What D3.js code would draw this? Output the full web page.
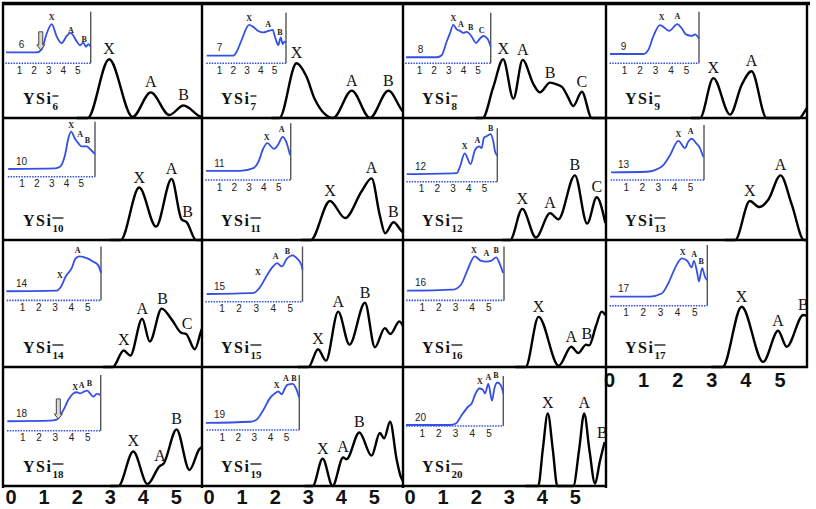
<!DOCTYPE html>
<html><head><meta charset="utf-8">
<script src="https://cdn.jsdelivr.net/npm/d3@7"></script>
<style>
body{margin:0;background:#fff;}
svg{display:block;background:#fff;}
</style></head><body>
<svg id="chart" width="816" height="509"></svg>
<script>
// ---------------- DATA ----------------
const clusterSizes = [6,7,8,9,10,11,12,13,14,15,16,17,18,19,20];
const axisTicks = [0,1,2,3,4,5];
const insetTicks = [1,2,3,4,5];

// simulated spectra: [binding energy (eV), relative intensity]
const simSpectra = [
  [[2.0,0],[2.33,0],[2.98,0.515],[3.69,0.01],[4.24,0.225],[4.80,0.026],[5.23,0.11],[5.76,0.01],[5.95,0]],
  [[1.9,0],[2.14,0],[2.66,0.48],[2.95,0.37],[3.22,0.16],[3.77,0],[4.33,0.24],[4.88,0],[5.44,0.24],[5.84,0.07],[5.95,0.03]],
  [[2.0,0],[2.21,0],[2.53,0.27],[2.83,0.515],[3.14,0.17],[3.42,0.51],[3.74,0.30],[3.94,0.225],[4.25,0.31],[4.45,0.295],[4.62,0.27],[4.78,0.19],[4.95,0.105],[5.21,0.23],[5.51,0],[5.95,0]],
  [[2.4,0],[2.67,0],[3.06,0.35],[3.55,0.03],[3.89,0.29],[4.18,0.41],[4.62,0],[5.58,0],[5.80,0.085],[5.9,0.12]],
  [[3.0,0],[3.33,0],[3.89,0.43],[4.40,0.11],[4.87,0.50],[5.17,0.17],[5.33,0.145],[5.61,0],[5.95,0]],
  [[2.8,0],[3.09,0],[3.67,0.32],[4.13,0.18],[4.63,0.40],[4.93,0.505],[5.18,0.20],[5.34,0.055],[5.59,0.145],[5.85,0.07],[5.95,0.05]],
  [[2.8,0],[3.04,0],[3.41,0.255],[3.82,0.02],[4.25,0.22],[4.50,0.17],[5.00,0.53],[5.37,0.135],[5.66,0.35],[5.92,0.14]],
  [[3.4,0],[3.70,0],[4.13,0.32],[4.41,0.27],[4.67,0.33],[5.03,0.53],[5.36,0.29],[5.72,0],[5.9,0]],
  [[2.8,0],[3.09,0],[3.42,0.13],[3.62,0.09],[3.98,0.38],[4.21,0.20],[4.57,0.46],[4.87,0.375],[5.16,0.27],[5.31,0.26],[5.57,0.14],[5.79,0.30],[5.92,0.34]],
  [[2.7,0],[3.02,0],[3.31,0.14],[3.55,0.05],[3.92,0.436],[4.26,0.176],[4.73,0.506],[5.03,0.155],[5.33,0.306],[5.50,0.26],[5.77,0.358],[5.92,0.30]],
  [[3.2,0],[3.51,0],[3.90,0.395],[4.51,0.01],[4.89,0.16],[5.10,0.11],[5.34,0.176],[5.43,0.17],[5.64,0.325],[5.81,0.436],[5.92,0.41]],
  [[3.0,0],[3.33,0],[3.89,0.475],[4.52,0.04],[4.96,0.285],[5.21,0.16],[5.70,0.41],[5.85,0.40]],
  [[3.0,0],[3.26,0],[3.71,0.29],[4.14,0.017],[4.52,0.17],[4.62,0.185],[5.02,0.475],[5.41,0.135],[5.71,0.31],[5.9,0.34]],
  [[2.9,0],[3.15,0],[3.45,0.23],[3.75,0],[4.07,0.24],[4.17,0.225],[4.56,0.45],[4.93,0.255],[5.18,0.445],[5.31,0.40],[5.49,0.54],[5.69,0.22],[5.81,0.08],[5.9,0.03]],
  [[3.5,0],[3.89,0],[4.03,0.31],[4.18,0.61],[4.33,0.31],[4.47,0],[4.95,0],[5.13,0.31],[5.28,0.61],[5.44,0.30],[5.61,0.02],[5.75,0.2],[5.9,0.37]]
];

// simulated-peak labels: [label, eV, peak intensity]
const simPeakLabels = [
  [["X",2.98,0.515],["A",4.24,0.225],["B",5.23,0.11]],
  [["X",2.66,0.48],["A",4.33,0.24],["B",5.44,0.24]],
  [["X",2.83,0.515],["A",3.42,0.51],["B",4.25,0.31],["C",5.21,0.23]],
  [["X",3.06,0.35],["A",4.18,0.41]],
  [["X",3.89,0.43],["A",4.87,0.50],["B",5.35,0.145]],
  [["X",3.67,0.32],["A",4.93,0.505],["B",5.59,0.145]],
  [["X",3.41,0.255],["A",4.25,0.22],["B",5.00,0.53],["C",5.66,0.35]],
  [["X",4.13,0.32],["A",5.03,0.53]],
  [["X",3.42,0.13],["A",3.98,0.38],["B",4.60,0.46],["C",5.34,0.26]],
  [["X",3.31,0.14],["A",3.92,0.436],["B",4.73,0.506]],
  [["X",3.90,0.395],["A",4.89,0.16],["B",5.36,0.18]],
  [["X",3.89,0.475],["A",4.96,0.285],["B",5.70,0.41]],
  [["X",3.71,0.29],["A",4.52,0.17],["B",5.02,0.475]],
  [["X",3.45,0.23],["A",4.07,0.24],["B",4.56,0.45]],
  [["X",4.18,0.61],["A",5.28,0.61],["B",5.83,0.36]]
];

// experimental spectra (insets): [eV, relative level]
const expSpectra = [
  [[0.11,0.21],[2.21,0.21],[2.55,0.27],[2.90,0.58],[3.24,0.76],[3.58,0.52],[3.92,0.39],[4.27,0.53],[4.54,0.59],[4.90,0.45],[5.18,0.35],[5.40,0.40],[5.59,0.32],[5.75,0.37],[5.91,0.32]],
  [[0.10,0.15],[2.04,0.15],[2.28,0.23],[2.64,0.46],[3.18,0.76],[3.49,0.72],[3.85,0.64],[4.22,0.61],[4.58,0.64],[4.90,0.66],[5.06,0.53],[5.31,0.36],[5.48,0.51],[5.63,0.38],[5.75,0.43],[5.87,0.41]],
  [[0.12,0.12],[2.21,0.12],[2.55,0.16],[2.89,0.43],[3.11,0.59],[3.34,0.76],[3.57,0.67],[3.80,0.64],[4.02,0.60],[4.25,0.62],[4.59,0.53],[4.89,0.40],[5.16,0.49],[5.39,0.54],[5.66,0.49],[5.89,0.33]],
  [[0.10,0.18],[2.25,0.18],[2.57,0.26],[2.89,0.52],[3.32,0.74],[3.92,0.63],[4.44,0.76],[4.72,0.68],[5.00,0.56],[5.37,0.53],[5.58,0.56],[5.84,0.48]],
  [[0.10,0.14],[3.26,0.15],[3.59,0.18],[3.93,0.39],[4.16,0.70],[4.34,0.82],[4.61,0.69],[4.83,0.61],[5.06,0.55],[5.40,0.55],[5.67,0.49],[5.96,0.41]],
  [[0.12,0.16],[2.42,0.16],[3.32,0.21],[3.66,0.32],[4.00,0.56],[4.26,0.65],[4.72,0.55],[5.01,0.63],[5.30,0.76],[5.53,0.68],[5.80,0.44]],
  [[0.09,0.14],[3.26,0.16],[3.47,0.28],[3.77,0.53],[4.15,0.33],[4.42,0.59],[4.70,0.66],[4.85,0.63],[4.99,0.82],[5.21,0.86],[5.42,0.89],[5.59,0.75],[5.71,0.55],[5.84,0.49]],
  [[0.09,0.14],[2.30,0.15],[2.82,0.18],[3.34,0.27],[3.75,0.45],[4.27,0.71],[4.68,0.58],[4.89,0.70],[5.10,0.75],[5.37,0.67],[5.61,0.58],[5.82,0.42]],
  [[0.04,0.17],[3.09,0.18],[3.40,0.26],[3.69,0.45],[4.05,0.60],[4.29,0.78],[4.53,0.82],[5.01,0.78],[5.37,0.72],[5.66,0.66],[5.85,0.51]],
  [[0.13,0.14],[2.88,0.16],[3.22,0.25],[3.68,0.49],[4.02,0.64],[4.25,0.70],[4.53,0.64],[4.82,0.78],[5.16,0.84],[5.43,0.78],[5.67,0.67],[5.74,0.58]],
  [[0.11,0.18],[2.89,0.20],[3.36,0.29],[3.72,0.54],[4.19,0.82],[4.54,0.74],[4.89,0.72],[5.20,0.74],[5.48,0.80],[5.72,0.66],[5.90,0.51]],
  [[0.09,0.15],[2.42,0.15],[3.10,0.20],[3.49,0.37],[3.88,0.62],[4.27,0.78],[4.59,0.74],[4.85,0.63],[4.98,0.74],[5.18,0.53],[5.27,0.40],[5.46,0.62],[5.62,0.48],[5.76,0.42]],
  [[0.08,0.17],[2.71,0.18],[3.12,0.20],[3.53,0.37],[3.83,0.55],[4.14,0.67],[4.35,0.69],[4.55,0.67],[4.80,0.70],[5.00,0.72],[5.17,0.67],[5.37,0.61],[5.58,0.66],[5.83,0.64]],
  [[0.02,0.13],[2.76,0.15],[3.17,0.19],[3.58,0.36],[4.00,0.58],[4.31,0.67],[4.52,0.70],[4.73,0.65],[4.93,0.76],[5.07,0.82],[5.41,0.84],[5.61,0.76],[5.82,0.58]],
  [[0.06,0.02],[2.69,0.02],[3.05,0.05],[3.40,0.22],[3.79,0.39],[3.99,0.45],[4.19,0.62],[4.45,0.75],[4.65,0.73],[4.79,0.65],[4.99,0.84],[5.21,0.51],[5.35,0.75],[5.53,0.87],[5.73,0.82],[5.89,0.65]]
];

// experimental peak labels (insets): [label, eV, level]
const expPeakLabels = [
  [["X",3.24,0.87],["A",4.55,0.63],["B",5.46,0.44]],
  [["X",3.18,0.87],["A",4.57,0.76],["B",5.43,0.60]],
  [["X",3.34,0.87],["A",3.85,0.76],["B",4.52,0.69],["C",5.27,0.64]],
  [["X",3.43,0.87],["A",4.44,0.89]],
  [["X",4.34,0.92],["A",4.95,0.75],["B",5.44,0.65]],
  [["X",4.22,0.74],["A",5.24,0.87]],
  [["X",3.77,0.64],["A",4.57,0.75],["B",5.42,0.98]],
  [["X",4.27,0.82],["A",5.04,0.87]],
  [["X",3.33,0.45],["A",4.41,0.91]],
  [["X",3.13,0.52],["A",4.16,0.80],["B",4.86,0.90]],
  [["X",4.14,0.91],["A",4.89,0.86],["B",5.48,0.91]],
  [["X",4.33,0.86],["A",5.00,0.84],["B",5.40,0.72]],
  [["X",4.25,0.76],["A",4.66,0.80],["B",5.13,0.84]],
  [["X",4.42,0.79],["A",4.99,0.92],["B",5.49,0.92]],
  [["X",4.49,0.87],["A",4.99,0.95],["B",5.45,0.99]]
];

// detachment-threshold arrows: [panel index, eV, top level, bottom level]
const thresholdArrows = [[0,2.49,0.61,0.26],[12,3.22,0.57,0.21]];

// ---------------- LAYOUT ----------------
const colLeft = [4,202,403,606];
const colWidth = [198,201,203,201];
const rowTop = [4,118,240,367];
const rowBottom = [118,240,367,486];
const colAxis = [{zero:6.6,unit:33.06},{zero:6.6,unit:33.06},{zero:6.6,unit:33.06},{zero:3,unit:34.1}];
// inset boxes relative to panel: [x of 0 eV, px per eV, right axis x, top, bottom]
const insetBoxes = [
  [0.4,14.6,86.7,7.7,59.3],[3.3,13.75,84,8.7,59.3],[1.3,14.67,87.7,8.7,59.3],[2.5,15.5,93,7.7,59.3],
  [2.8,14.8,91,3.7,58.7],[2.2,14.8,88.7,5.3,62],[2.3,15.75,94.3,10.3,63.7],[3.6,16.1,98,7,62],
  [1.7,16.3,97,6.6,60.4],[2.4,17.1,100.5,6.6,61.7],[2.2,16.6,101,6.6,60.4],[2.5,17.15,101.3,5,65.7],
  [2,16.25,96.7,8,63.7],[3.6,16.1,97.3,8,63],[2,16.7,100.3,9,59]
];

const svg = d3.select('#chart');
const defs = svg.append('defs');
const blue = '#3450e6';
const serif = 'Liberation Serif, Times New Roman, serif';
const sans = 'Liberation Sans, Arial, sans-serif';

clusterSizes.forEach((n,i)=>{
  const c = i%4, r = Math.floor(i/4);
  const L = colLeft[c], T = rowTop[r], B = rowBottom[r], R = L + colWidth[c];
  const ca = colAxis[c];
  const x = d3.scaleLinear().domain([-ca.zero/ca.unit,(R-L-ca.zero)/ca.unit]).range([L,R]);
  const y = d3.scaleLinear().domain([0,1]).range([B,T]);
  const g = svg.append('g');

  defs.append('clipPath').attr('id','clip'+i).append('rect')
    .attr('x',L+1).attr('y',T).attr('width',R-L-2).attr('height',B-T+2);

  // ----- inset -----
  const ib = insetBoxes[i];
  const ix = d3.scaleLinear().domain([0,(ib[2]-ib[0])/ib[1]]).range([L+ib[0],L+ib[2]]);
  const iy = d3.scaleLinear().domain([0,1]).range([T+ib[4],T+ib[3]]);
  const ig = g.append('g');
  ig.append('line').attr('x1',L+ib[0]+1).attr('x2',L+ib[2]).attr('y1',T+ib[4]).attr('y2',T+ib[4])
    .attr('stroke',blue).attr('stroke-width',1.6).attr('stroke-dasharray','1.5,1.2');
  ig.append('line').attr('x1',L+ib[2]).attr('x2',L+ib[2]).attr('y1',T+ib[3]).attr('y2',T+ib[4])
    .attr('stroke','#555').attr('stroke-width',1.4);
  const iax = ig.append('g').attr('transform',`translate(0,${T+ib[4]})`)
    .call(d3.axisBottom(ix).tickValues(insetTicks).tickFormat(d3.format('d')).tickSize(0).tickPadding(3.5));
  iax.select('.domain').remove();
  iax.selectAll('text').attr('font-family',sans).attr('font-size',10).attr('fill','#222');
  ig.append('path').datum(expSpectra[i])
    .attr('d',d3.line().x(d=>ix(d[0])).y(d=>iy(d[1])).curve(d3.curveMonotoneX))
    .attr('fill','none').attr('stroke',blue).attr('stroke-width',1.8);
  ig.append('text').attr('x',L+17.5).attr('y',iy(expSpectra[i][0][1])-7)
    .attr('text-anchor','middle').attr('dominant-baseline','middle')
    .attr('font-family',sans).attr('font-size',10).attr('fill','#222').text(n);
  ig.selectAll('text.el').data(expPeakLabels[i]).enter().append('text').attr('class','el')
    .attr('x',d=>ix(d[1])).attr('y',d=>iy(d[2])).attr('text-anchor','middle').attr('dominant-baseline','middle')
    .attr('font-family',serif).attr('font-weight','bold').attr('font-size',8).attr('fill','#222')
    .text(d=>d[0]);

  // ----- simulated curve -----
  g.append('path').datum(simSpectra[i]).attr('clip-path',`url(#clip${i})`)
    .attr('d',d3.line().x(d=>x(d[0])).y(d=>y(d[1])).curve(d3.curveMonotoneX))
    .attr('fill','none').attr('stroke','#000').attr('stroke-width',2.4);
  g.selectAll('text.sl').data(simPeakLabels[i]).enter().append('text').attr('class','sl')
    .attr('x',d=>x(d[1])).attr('y',d=>y(d[2])-5).attr('text-anchor','middle')
    .attr('font-family',serif).attr('font-size',16).attr('fill','#111')
    .text(d=>d[0]);

  // ----- species label -----
  const lx = L+19, ly = B-14;
  const t = g.append('text').attr('x',lx).attr('y',ly)
    .attr('font-family',serif).attr('font-weight','bold')
    .attr('font-size',16).attr('letter-spacing',1.5).attr('fill','#111').text('YSi');
  const w = t.node().getComputedTextLength();
  const sub = g.append('text').attr('x',lx+w).attr('y',ly+6)
    .attr('font-family',serif).attr('font-weight','bold')
    .attr('font-size',11).attr('fill','#111').text(n);
  const sw = sub.node().getComputedTextLength();
  g.append('line').attr('x1',lx+w).attr('x2',lx+w+Math.max(sw,6)).attr('y1',ly-8).attr('y2',ly-8)
    .attr('stroke','#111').attr('stroke-width',1.3);

  // ----- main axis labels on bottom panels -----
  const isBottom = (r===3) || (c===3 && r===2);
  if(isBottom){
    const ax = svg.append('g').attr('transform',`translate(0,${B})`)
      .call(d3.axisBottom(x).tickValues(axisTicks).tickFormat(d3.format('d')).tickSize(0).tickPadding(c===3?5.5:4));
    ax.select('.domain').remove();
    ax.selectAll('text').attr('font-family',sans)
      .attr('font-weight','bold').attr('font-size',20).attr('fill','#111');
  }
});

// arrows
thresholdArrows.forEach(a=>{
  const i=a[0], c=i%4, r=Math.floor(i/4);
  const L=colLeft[c], T=rowTop[r], ib=insetBoxes[i];
  const ix = d3.scaleLinear().domain([0,1]).range([L+ib[0],L+ib[0]+ib[1]]);
  const iy = d3.scaleLinear().domain([0,1]).range([T+ib[4],T+ib[3]]);
  const cx=ix(a[1]), ty=iy(a[2]), by=iy(a[3]);
  svg.append('path').attr('d',`M${cx-2},${ty}L${cx+2},${ty}L${cx+2},${by-5}L${cx+4},${by-5}L${cx},${by}L${cx-4},${by-5}L${cx-2},${by-5}Z`)
    .attr('fill','#d8d8d8').attr('stroke','#444').attr('stroke-width',1);
});

// grid borders
const borders = svg.append('g').attr('stroke','#000');
borders.append('line').attr('x1',2).attr('x2',810).attr('y1',3.5).attr('y2',3.5).attr('stroke-width',3.5);
[[118,2,808],[240,2,808],[367,2,808],[486,2,607]].forEach(h=>{
  borders.append('line').attr('x1',h[1]).attr('x2',h[2]).attr('y1',h[0]).attr('y2',h[0]).attr('stroke-width',2.6);
});
[[3,2,488],[202,2,488],[403,2,488],[606,2,488],[807,2,368]].forEach(v=>{
  borders.append('line').attr('x1',v[0]).attr('x2',v[0]).attr('y1',v[1]).attr('y2',v[2]).attr('stroke-width',2.4);
});
</script>
</body></html>
